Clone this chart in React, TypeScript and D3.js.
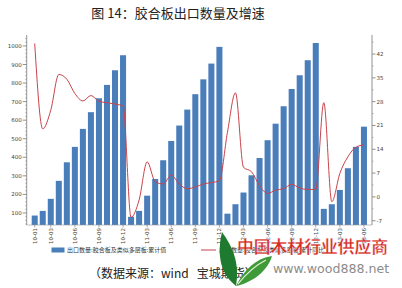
import React from 'react';
import * as d3 from 'd3';

const months = [
  '10-01','10-02','10-03','10-04','10-05','10-06','10-07','10-08','10-09','10-10','10-11','10-12',
  '11-01','11-02','11-03','11-04','11-05','11-06','11-07','11-08','11-09','11-10','11-11','11-12',
  '12-01','12-02','12-03','12-04','12-05','12-06','12-07','12-08','12-09','12-10','12-11','12-12',
  '13-01','13-02','13-03','13-04','13-05','13-06',
];
const exportVolume = [
  86, 111, 176, 273, 373, 456, 553, 643, 718, 790, 869, 950,
  79, 111, 193, 283, 384, 488, 571, 657, 740, 820, 905, 995,
  96, 147, 210, 303, 396, 492, 581, 675, 768, 842, 923, 1016,
  122, 147, 224, 341, 456, 565,
];
const yoyGrowth = [
  45.1, 20.0, 25.5, 36.0, 34.6, 30.4, 28.2, 29.8, 28.1, 27.7, 27.3, 26.7,
  -6.0, -0.9, 10.3, 4.5, 3.8, 6.4, 3.8, 2.4, 2.9, 3.8, 4.2, 4.8,
  19.0, 30.6, 8.7, 7.4, 3.3, 1.0, 2.0, 2.4, 3.7, 2.6, 2.2, 2.2,
  27.7, -1.4, 6.9, 11.8, 14.6, 15.3,
];
const leftTicks = [100, 200, 300, 400, 500, 600, 700, 800, 900, 1000];
const rightTicks = [-7, 0, 7, 14, 21, 28, 35, 42];
const xTickIndex = [0, 2, 5, 8, 11, 14, 17, 20, 23, 26, 29, 32, 35, 38, 41];

const title = '图 14：胶合板出口数量及增速';
const legendBar = '出口数量:胶合板及类似多层板:累计值';
const legendLine = '出口数量:胶合板及类似多层板:累计同比';
const sourceText = '（数据来源：wind\u00a0\u00a0\u00a0宝城期货）';
const watermark = '中国木材行业供应商';
const watermarkUrl = 'www.wood888.net';

const W = 402, H = 288;
const plotL = 26.7, plotR = 372, plotT = 35, plotB = 225;

export default function App() {
  const x = d3.scaleBand<number>()
    .domain(d3.range(months.length))
    .range([30.7, 30.7 + 8.03 * months.length])
    .paddingInner(0.25)
    .paddingOuter(0.125);
  const yL = d3.scaleLinear().domain([35, 1059]).range([plotB, plotT]);
  const yR = d3.scaleLinear().domain([-8.26, 47.6]).range([plotB, plotT]);
  const cx = (i: number) => (x(i) as number) + x.bandwidth() / 2;

  const line = d3.line<number>()
    .x((_, i) => cx(i))
    .y((d) => yR(d))
    .curve(d3.curveMonotoneX);

  const minorL = d3.range(40, 1059, 20).filter((v) => v % 100 !== 0);
  const minorR = d3.range(-7, 47.6, 3.5).filter((v) => v % 7 !== 0);

  const tickFont = 'DejaVu Sans, sans-serif';

  return (
    <svg width={W} height={H} style={{ position: 'absolute', left: 0, top: 0, background: '#fff' }}>
      <rect x={0} y={0} width={W} height={H} fill="#fff" />
      <text x={178} y={18} textAnchor="middle" fontSize={13} fill="#222"
        fontFamily="Noto Sans CJK SC, sans-serif">{title}</text>

      {/* bars */}
      {exportVolume.map((v, i) => (
        <rect key={i} x={x(i)} y={yL(v)} width={x.bandwidth()} height={plotB - yL(v)} fill="#4a7ebb" />
      ))}

      {/* line */}
      <path d={line(yoyGrowth) || ''} fill="none" stroke="#c9434a" strokeWidth={1} />

      {/* left axis */}
      <line x1={plotL} x2={plotL} y1={plotT} y2={plotB} stroke="#777" strokeWidth={0.8} />
      {minorL.map((v) => (
        <line key={'ml' + v} x1={plotL - 1.5} x2={plotL} y1={yL(v)} y2={yL(v)} stroke="#888" strokeWidth={0.6} />
      ))}
      {leftTicks.map((v) => (
        <g key={'l' + v}>
          <line x1={plotL - 4} x2={plotL} y1={yL(v)} y2={yL(v)} stroke="#777" strokeWidth={0.8} />
          <text x={plotL - 5} y={yL(v) + 2} textAnchor="end" fontSize={5.5} fill="#444" fontFamily={tickFont}>{v}</text>
        </g>
      ))}

      {/* right axis */}
      <line x1={plotR} x2={plotR} y1={plotT} y2={plotB} stroke="#777" strokeWidth={0.8} />
      {minorR.map((v) => (
        <line key={'mr' + v} x1={plotR} x2={plotR + 1.5} y1={yR(v)} y2={yR(v)} stroke="#888" strokeWidth={0.6} />
      ))}
      {rightTicks.map((v) => (
        <g key={'r' + v}>
          <line x1={plotR} x2={plotR + 3.5} y1={yR(v)} y2={yR(v)} stroke="#777" strokeWidth={0.8} />
          <text x={plotR + 4.5} y={yR(v) + 2} textAnchor="start" fontSize={5.5} fill="#444" fontFamily={tickFont}>{v}</text>
        </g>
      ))}

      {/* x axis */}
      <line x1={plotL} x2={plotR} y1={plotB} y2={plotB} stroke="#999" strokeWidth={0.6} />
      {xTickIndex.map((i) => (
        <g key={'x' + i}>
          <line x1={cx(i)} x2={cx(i)} y1={plotB} y2={plotB + 2.5} stroke="#777" strokeWidth={0.6} />
          <text transform={`translate(${cx(i) + 2},${plotB + 3}) rotate(-90)`} textAnchor="end"
            fontSize={5.5} fill="#444" fontFamily={tickFont}>{months[i]}</text>
        </g>
      ))}

      {/* legend */}
      <rect x={51.5} y={247.5} width={13} height={5} fill="#4a7ebb" />
      <text x={67} y={252} fontSize={6} fill="#333" fontFamily="Noto Sans CJK SC, sans-serif">{legendBar}</text>
      <line x1={201} x2={216} y1={250} y2={250} stroke="#c9434a" strokeWidth={1} />
      <text x={219} y={252} fontSize={6} fill="#333" fontFamily="Noto Sans CJK SC, sans-serif">{legendLine}</text>

      {/* source */}
      <text x={89} y={278} fontSize={12} fill="#222" fontFamily="Noto Sans CJK SC, sans-serif">{sourceText}</text>

      {/* watermark logo */}
      <path d="M236,286 C222,275 216,258 222,232 C232,246 240,262 236,286 Z" fill="#1e7a2e" />
      <path d="M236,286 C244,270 256,258 272,256 C268,270 254,282 236,286 Z" fill="#3f9a3a" />
      <path d="M238,284 C246,274 254,266 266,260" fill="none" stroke="#e8f3d0" strokeWidth={1.2} />
      <text x={237} y={252.5} fontSize={16.8} fill="#d42a24" fontWeight="bold"
        fontFamily="Noto Sans CJK SC, sans-serif" stroke="#fff" strokeWidth={0.3}>{watermark}</text>
      <text x={273} y={273} fontSize={12.6} fill="#8c8c8c" fontFamily="DejaVu Sans, sans-serif">{watermarkUrl}</text>
    </svg>
  );
}
